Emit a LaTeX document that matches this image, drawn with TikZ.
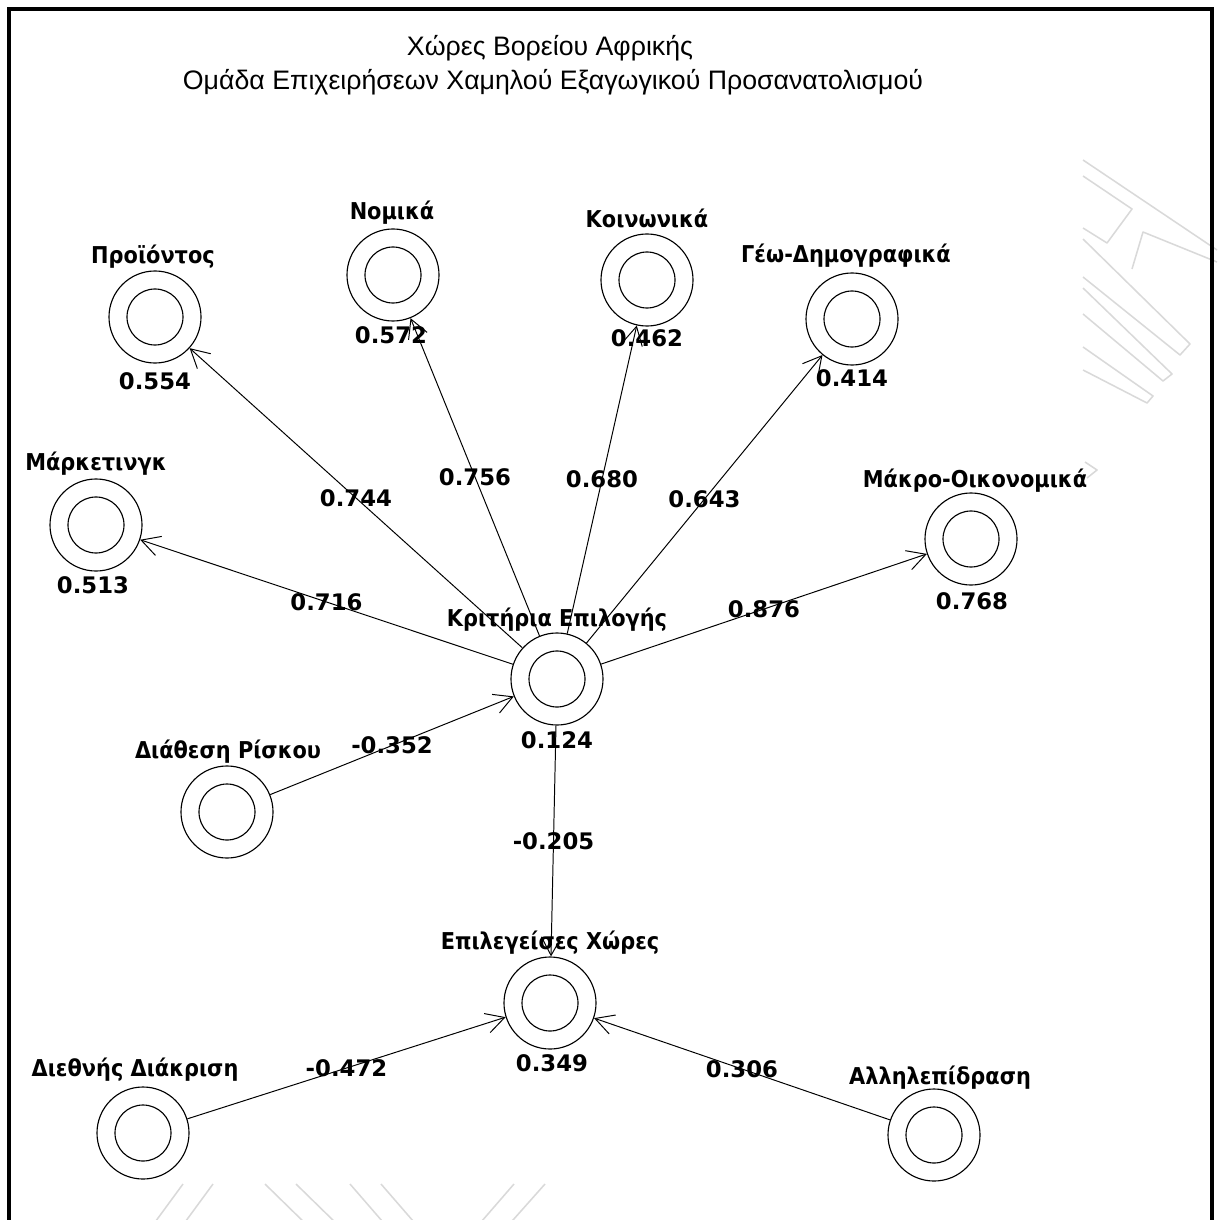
\documentclass[tikz,border=0pt]{standalone}
\usepackage{fontspec}
\usetikzlibrary{arrows.meta}
\newfontfamily\titlefont{Liberation Sans}
\newfontfamily\lblfont{DejaVu Sans}[FakeStretch=0.9]
\newfontfamily\numfont{DejaVu Sans}

\tikzset{
  factor/.style={circle, draw, line width=0.8pt, minimum size=2.3cm, inner sep=0pt,
    path picture={\draw[line width=0.8pt] (path picture bounding box.center) circle (0.7cm);}},
  factorlabel/.style={font=\lblfont\bfseries\fontsize{16.5}{19}\selectfont, inner sep=0pt},
  factorvalue/.style={font=\numfont\bfseries\fontsize{16.2}{19}\selectfont, inner sep=0pt},
  weightlabel/.style={factorvalue, midway},
  link/.style={-{Straight Barb[length=0.46cm,width=0.5cm]}, line width=0.7pt},
  titletext/.style={font=\titlefont\fontsize{19}{22}\selectfont, inner sep=0pt},
  watermark/.style={draw=gray!30, line width=1.1pt, line join=round},
}

\begin{document}
\begin{tikzpicture}[x=0.025cm, y=-0.025cm]
\useasboundingbox (0,0) rectangle (1217,1220);

% faint background watermark
\draw[watermark] (1083,160) -- (1217,250);
\draw[watermark] (1083,176) -- (1132,209) -- (1107,243) -- (1083,228);
\draw[watermark] (1132,269) -- (1143,232) -- (1217,262);
\draw[watermark] (1083,239) -- (1190,344) -- (1180,355) -- (1083,277);
\draw[watermark] (1083,288) -- (1172,374) -- (1163,381) -- (1083,314);
\draw[watermark] (1083,347) -- (1153,396) -- (1147,403) -- (1083,370);
\draw[watermark] (1085,462) -- (1097,470) -- (1087,478);
\draw[watermark] (150,1229) -- (183,1184);
\draw[watermark] (180,1229) -- (213,1184);
\draw[watermark] (265,1184) -- (311,1229);
\draw[watermark] (296,1184) -- (342,1229);
\draw[watermark] (350,1184) -- (389,1229);
\draw[watermark] (381,1184) -- (420,1229);
\draw[watermark] (475,1229) -- (514,1184);
\draw[watermark] (505,1229) -- (545,1184);

% frame
\draw[line width=2.2pt] (9,1230) -- (9,9) -- (1212,9) -- (1212,1230);

% title
\node[titletext] (title1) at (550,48) {Χώρες Βορείου Αφρικής};
\node[titletext] (title2) at (553,82) {Ομάδα Επιχειρήσεων Χαμηλού Εξαγωγικού Προσανατολισμού};

% factors
\node[factor] (krit)  at (557,679)  {};
\node[factor] (prod)  at (155,317)  {};
\node[factor] (nom)   at (393,275)  {};
\node[factor] (koin)  at (647,280)  {};
\node[factor] (geo)   at (852,319)  {};
\node[factor] (mark)  at (96,525)   {};
\node[factor] (makro) at (971,539)  {};
\node[factor] (risk)  at (227,812)  {};
\node[factor] (epil)  at (550,1003) {};
\node[factor] (diak)  at (143,1133) {};
\node[factor] (allil) at (934,1135) {};

% factor names
\node[factorlabel] (krit-t)  at (557,620)  {Κριτήρια Επιλογής};
\node[factorlabel] (prod-t)  at (153,257)  {Προϊόντος};
\node[factorlabel] (nom-t)   at (392,213)  {Νομικά};
\node[factorlabel] (koin-t)  at (647,218)  {Κοινωνικά};
\node[factorlabel] (geo-t)   at (846,256)  {Γέω-Δημογραφικά};
\node[factorlabel] (mark-t)  at (96,464)   {Μάρκετινγκ};
\node[factorlabel] (makro-t) at (975,481)  {Μάκρο-Οικονομικά};
\node[factorlabel] (risk-t)  at (228,752)  {Διάθεση Ρίσκου};
\node[factorlabel] (epil-t)  at (550,943)  {Επιλεγείσες Χώρες};
\node[factorlabel] (diak-t)  at (135,1070) {Διεθνής Διάκριση};
\node[factorlabel] (allil-t) at (940,1078) {Αλληλεπίδραση};

% factor values
\node[factorvalue] (krit-v)  at (557,740)  {0.124};
\node[factorvalue] (prod-v)  at (155,381)  {0.554};
\node[factorvalue] (nom-v)   at (391,335)  {0.572};
\node[factorvalue] (koin-v)  at (647,338)  {0.462};
\node[factorvalue] (geo-v)   at (852,378)  {0.414};
\node[factorvalue] (mark-v)  at (93,585)   {0.513};
\node[factorvalue] (makro-v) at (972,601)  {0.768};
\node[factorvalue] (epil-v)  at (552,1063) {0.349};

% weighted links
\draw[link] (krit) -- (prod)  node[weightlabel] (w-prod)  {0.744};
\draw[link] (krit) -- (nom)   node[weightlabel] (w-nom)   {0.756};
\draw[link] (krit) -- (koin)  node[weightlabel] (w-koin)  {0.680};
\draw[link] (krit) -- (geo)   node[weightlabel] (w-geo)   {0.643};
\draw[link] (krit) -- (mark)  node[weightlabel] (w-mark)  {0.716};
\draw[link] (krit) -- (makro) node[weightlabel] (w-makro) {0.876};
\draw[link] (risk) -- (krit)  node[weightlabel] (w-risk)  {-0.352};
\draw[link] (krit) -- (epil)  node[weightlabel] (w-epil)  {-0.205};
\draw[link] (diak) -- (epil)  node[weightlabel] (w-diak)  {-0.472};
\draw[link] (allil) -- (epil) node[weightlabel] (w-allil) {0.306};
\end{tikzpicture}
\end{document}
